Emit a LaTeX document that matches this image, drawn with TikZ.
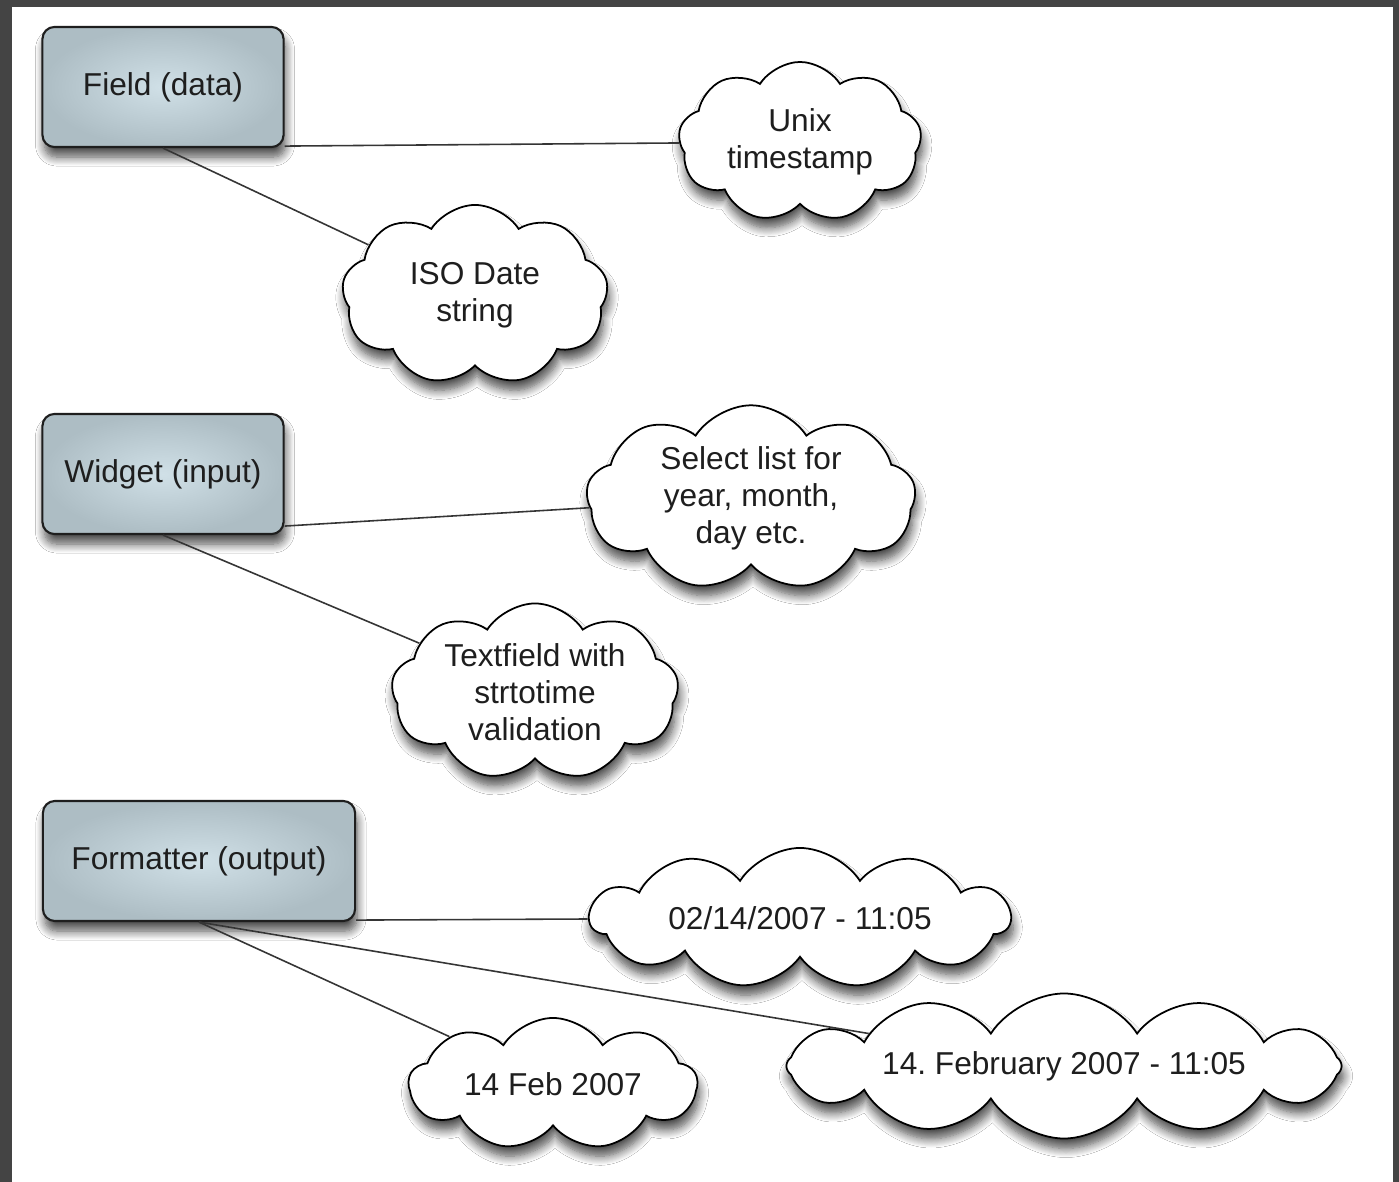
\documentclass[tikz,border=0pt]{standalone}
\usepackage{fontspec}
\setmainfont{Liberation Sans}
\usepackage{xcolor}
\usepackage{tikz}
\usetikzlibrary{shapes.symbols,shadows.blur}

\definecolor{boxlight}{HTML}{D0E0E7}
\definecolor{boxdark}{HTML}{ADBDC4}
\definecolor{frame}{HTML}{444444}
\definecolor{ink}{HTML}{1E1E1E}

\tikzset{
  soft/.style={blur shadow={shadow xshift=0.02cm, shadow yshift=-0.1cm,
    shadow blur radius=0.09cm, shadow blur steps=10, shadow opacity=70}},
  box/.style={draw=ink, line width=0.6pt, rounded corners=0.12cm,
    inner color=boxlight, outer color=boxdark, minimum height=1.2cm,
    minimum width=2.41cm, text=ink, soft},
  idea/.style={cloud, cloud puffs=9, cloud puff arc=115, cloud ignores aspect,
    inner sep=0pt, draw=black, line width=0.5pt,
    fill=white, align=center, text=ink, soft},
  link/.style={draw=ink!90, line width=0.45pt}
}

\begin{document}
\begin{tikzpicture}[x=0.01cm, y=-0.01cm, font=\fontsize{9}{10.5}\selectfont]
\useasboundingbox (0,0) rectangle (1399,1182);
\fill[frame] (0,0) rectangle (1399,1182);
\fill[white] (12,7) rectangle (1393,1182);

% left hand boxes
\node[box] (field) at (163,87) {Field (data)};
\node[box] (widget) at (163,474) {Widget (input)};
\node[box, minimum width=3.12cm] (formatter) at (199,861) {Formatter (output)};

% clouds
\node[idea, minimum width=2.43cm, minimum height=1.6cm] (unix) at (800,142) {Unix\\timestamp};
\node[idea, minimum width=2.66cm, minimum height=1.8cm] (iso) at (475,295) {ISO Date\\string};
\node[idea, minimum width=3.29cm, minimum height=1.6cm] (select) at (751,498) {Select list for\\year, month,\\day etc.};
\node[idea, minimum width=2.87cm, minimum height=1.6cm] (textfield) at (535,692) {Textfield with\\strtotime\\validation};
\node[idea, cloud puffs=11, minimum width=4.2cm, minimum height=1.4cm] (usdate) at (800,918) {02/14/2007 - 11:05};
\node[idea, minimum width=2.88cm, minimum height=1.32cm] (shortdate) at (553,1084) {14 Feb 2007};
\node[idea, cloud puffs=12, minimum width=5.55cm, minimum height=1.45cm] (longdate) at (1064,1066) {14.\ February 2007 - 11:05};

% connectors
\draw[link] ([yshift=0.02cm]field.south east) -- (unix);
\draw[link] (field.south) -- (iso);
\draw[link] ([yshift=0.09cm]widget.south east) -- (select);
\draw[link] (widget.south) -- (textfield);
\draw[link] ([yshift=0.02cm]formatter.south east) -- (usdate);
\draw[link] (formatter.south) -- (shortdate);
\draw[link] (formatter.south) -- (longdate);
\end{tikzpicture}
\end{document}
